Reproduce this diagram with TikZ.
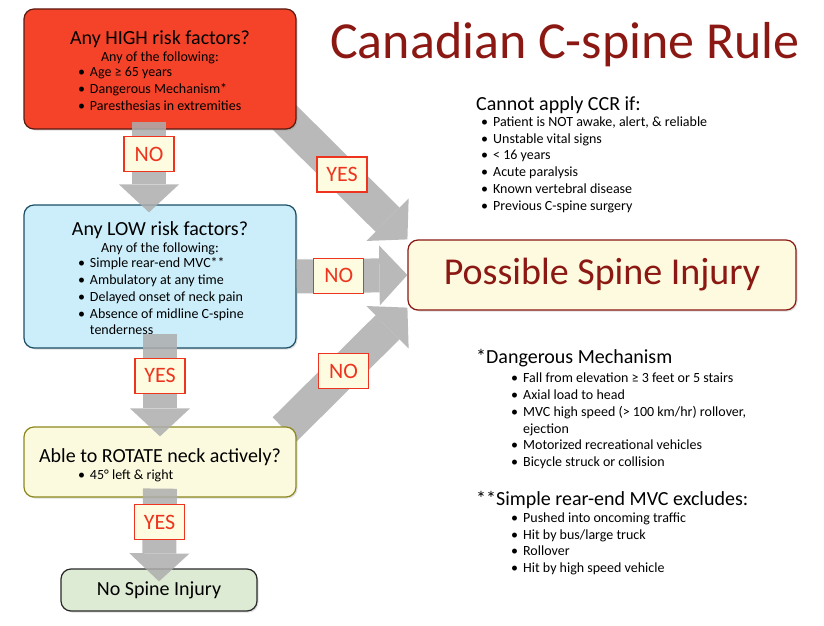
\documentclass[tikz,border=0pt]{standalone}
\usepackage{fontspec}
\setmainfont{Carlito}
\usetikzlibrary{arrows.meta, positioning, shadows, backgrounds}

\definecolor{highred}{RGB}{245,67,42}
\definecolor{highedge}{RGB}{90,26,16}
\definecolor{lowblue}{RGB}{204,238,250}
\definecolor{lowedge}{RGB}{28,78,102}
\definecolor{rotcream}{RGB}{252,250,222}
\definecolor{rotedge}{RGB}{140,136,30}
\definecolor{nogreen}{RGB}{222,235,212}
\definecolor{noedge}{RGB}{40,40,40}
\definecolor{spinered}{RGB}{139,24,18}
\definecolor{possfill}{RGB}{253,250,223}
\definecolor{flagred}{RGB}{238,52,30}
\definecolor{flagcream}{RGB}{253,251,224}

\newcommand{\hdsize}{\fontsize{20}{17}\selectfont\rule{0pt}{22.5pt}}
\newcommand{\bodysize}{\fontsize{14}{16.8}\selectfont}
\newcommand{\blist}[1]{\begin{tabular}{@{}l@{\hspace{5pt}}l@{}}#1\end{tabular}}

\tikzset{
    flowbox/.style={rectangle, draw=#1, rounded corners=10pt, line width=1.2pt, align=center, inner sep=0pt, font=\bodysize, drop shadow={opacity=0.25, shadow xshift=1.5pt, shadow yshift=-1.5pt}},
    flowarrow/.style={line width=34pt, draw=black!32, opacity=0.85, -{Triangle[width=60pt, length=28pt, line width=0pt]}},
    flaglabel/.style={rectangle, draw=flagred, fill=flagcream, text=flagred, line width=1.3pt, minimum width=50pt, minimum height=35pt, inner sep=0pt, opacity=1, font=\fontsize{22}{22}\selectfont},
    notehead/.style={inner sep=0pt, font=\fontsize{20}{20}\selectfont},
    notelist/.style={inner sep=0pt, align=left, font=\bodysize},
    titletext/.style={inner sep=0pt, text=spinered, font=\fontsize{52}{52}\selectfont}
}

\begin{document}
\begin{tikzpicture}[x=1pt, y=-1pt]
\useasboundingbox (0,0) rectangle (824,626);

\node[titletext, anchor=base west] (title) at (330,59) {Canadian C-spine Rule};

% decision boxes
\node[flowbox=highedge, fill=highred, minimum width=272pt, minimum height=120pt] (high) at (160,69)
  {{\hdsize Any HIGH risk factors?}\\ Any of the following:\\
   \makebox[164pt][l]{\blist{\textbullet & Age ≥ 65 years\\ \textbullet & Dangerous Mechanism*\\ \textbullet & Paresthesias in extremities}}};
\node[flowbox=lowedge, fill=lowblue, minimum width=272pt, minimum height=143pt] (low) at (160,276.5)
  {{\hdsize Any LOW risk factors?}\\ Any of the following:\\
   \makebox[164pt][l]{\blist{\textbullet & Simple rear-end MVC**\\ \textbullet & Ambulatory at any time\\ \textbullet & Delayed onset of neck pain\\ \textbullet & Absence of midline C-spine\\ & tenderness}}};
\node[flowbox=rotedge, fill=rotcream, minimum width=272pt, minimum height=70pt] (rotate) at (160,462)
  {{\hdsize Able to ROTATE neck actively?}\\
   \makebox[164pt][l]{\blist{\textbullet & 45° left \& right}}};
\node[flowbox=noedge, fill=nogreen, minimum width=196pt, minimum height=42pt, font=\fontsize{20}{20}\selectfont] (nospine) at (159,590) {No Spine Injury};
\node[flowbox=spinered, fill=possfill, minimum width=388pt, minimum height=70pt, text=spinered, font=\fontsize{38}{38}\selectfont] (possible) at (602,275) {Possible Spine Injury};

% notes
\node[notehead, anchor=base west] (ccrhead) at (476,110) {Cannot apply CCR if:};
\node[notelist, below right=1pt and 5pt of ccrhead.south west] (ccrlist)
  {\blist{\textbullet & Patient is NOT awake, alert, \& reliable\\ \textbullet & Unstable vital signs\\ \textbullet & < 16 years\\ \textbullet & Acute paralysis\\ \textbullet & Known vertebral disease\\ \textbullet & Previous C-spine surgery}};
\node[notehead, anchor=base west] (danghead) at (476,363) {*Dangerous Mechanism};
\node[notelist, below right=4pt and 35pt of danghead.south west] (danglist)
  {\blist{\textbullet & Fall from elevation ≥ 3 feet or 5 stairs\\ \textbullet & Axial load to head\\ \textbullet & MVC high speed (> 100 km/hr) rollover,\\ & ejection\\ \textbullet & Motorized recreational vehicles\\ \textbullet & Bicycle struck or collision}};
\node[notehead, anchor=base west] (mvchead) at (476,505) {**Simple rear-end MVC excludes:};
\node[notelist, below right=2pt and 35pt of mvchead.south west] (mvclist)
  {\blist{\textbullet & Pushed into oncoming traffic\\ \textbullet & Hit by bus/large truck\\ \textbullet & Rollover\\ \textbullet & Hit by high speed vehicle}};

% arrows
\begin{pgfonlayer}{background}
\draw[flowarrow] ([xshift=-20pt,yshift=20pt]high.south east) -- node[flaglabel, pos=0.5] (yeshigh) {YES} (possible.north west);
\draw[flowarrow] ([xshift=-12pt,yshift=-3pt]rotate.north east) -- node[flaglabel, pos=0.48] (norotate) {NO} ([yshift=3pt]possible.south west);
\end{pgfonlayer}
\draw[flowarrow] ([xshift=-11pt,yshift=8pt]high.south) -- node[flaglabel, pos=0.36] (nohigh) {NO} ([xshift=-11pt,yshift=-8pt]low.north);
\draw[flowarrow] (low.east) -- node[flaglabel, pos=0.38] (nolow) {NO} (possible.west);
\draw[flowarrow] ([yshift=15pt]low.south) -- node[flaglabel, pos=0.41] (yeslow) {YES} ([yshift=-10pt]rotate.north);
\draw[flowarrow] ([yshift=9pt]rotate.south) -- node[flaglabel, pos=0.36] (yesrotate) {YES} ([yshift=-13pt]nospine.north);

\end{tikzpicture}
\end{document}
